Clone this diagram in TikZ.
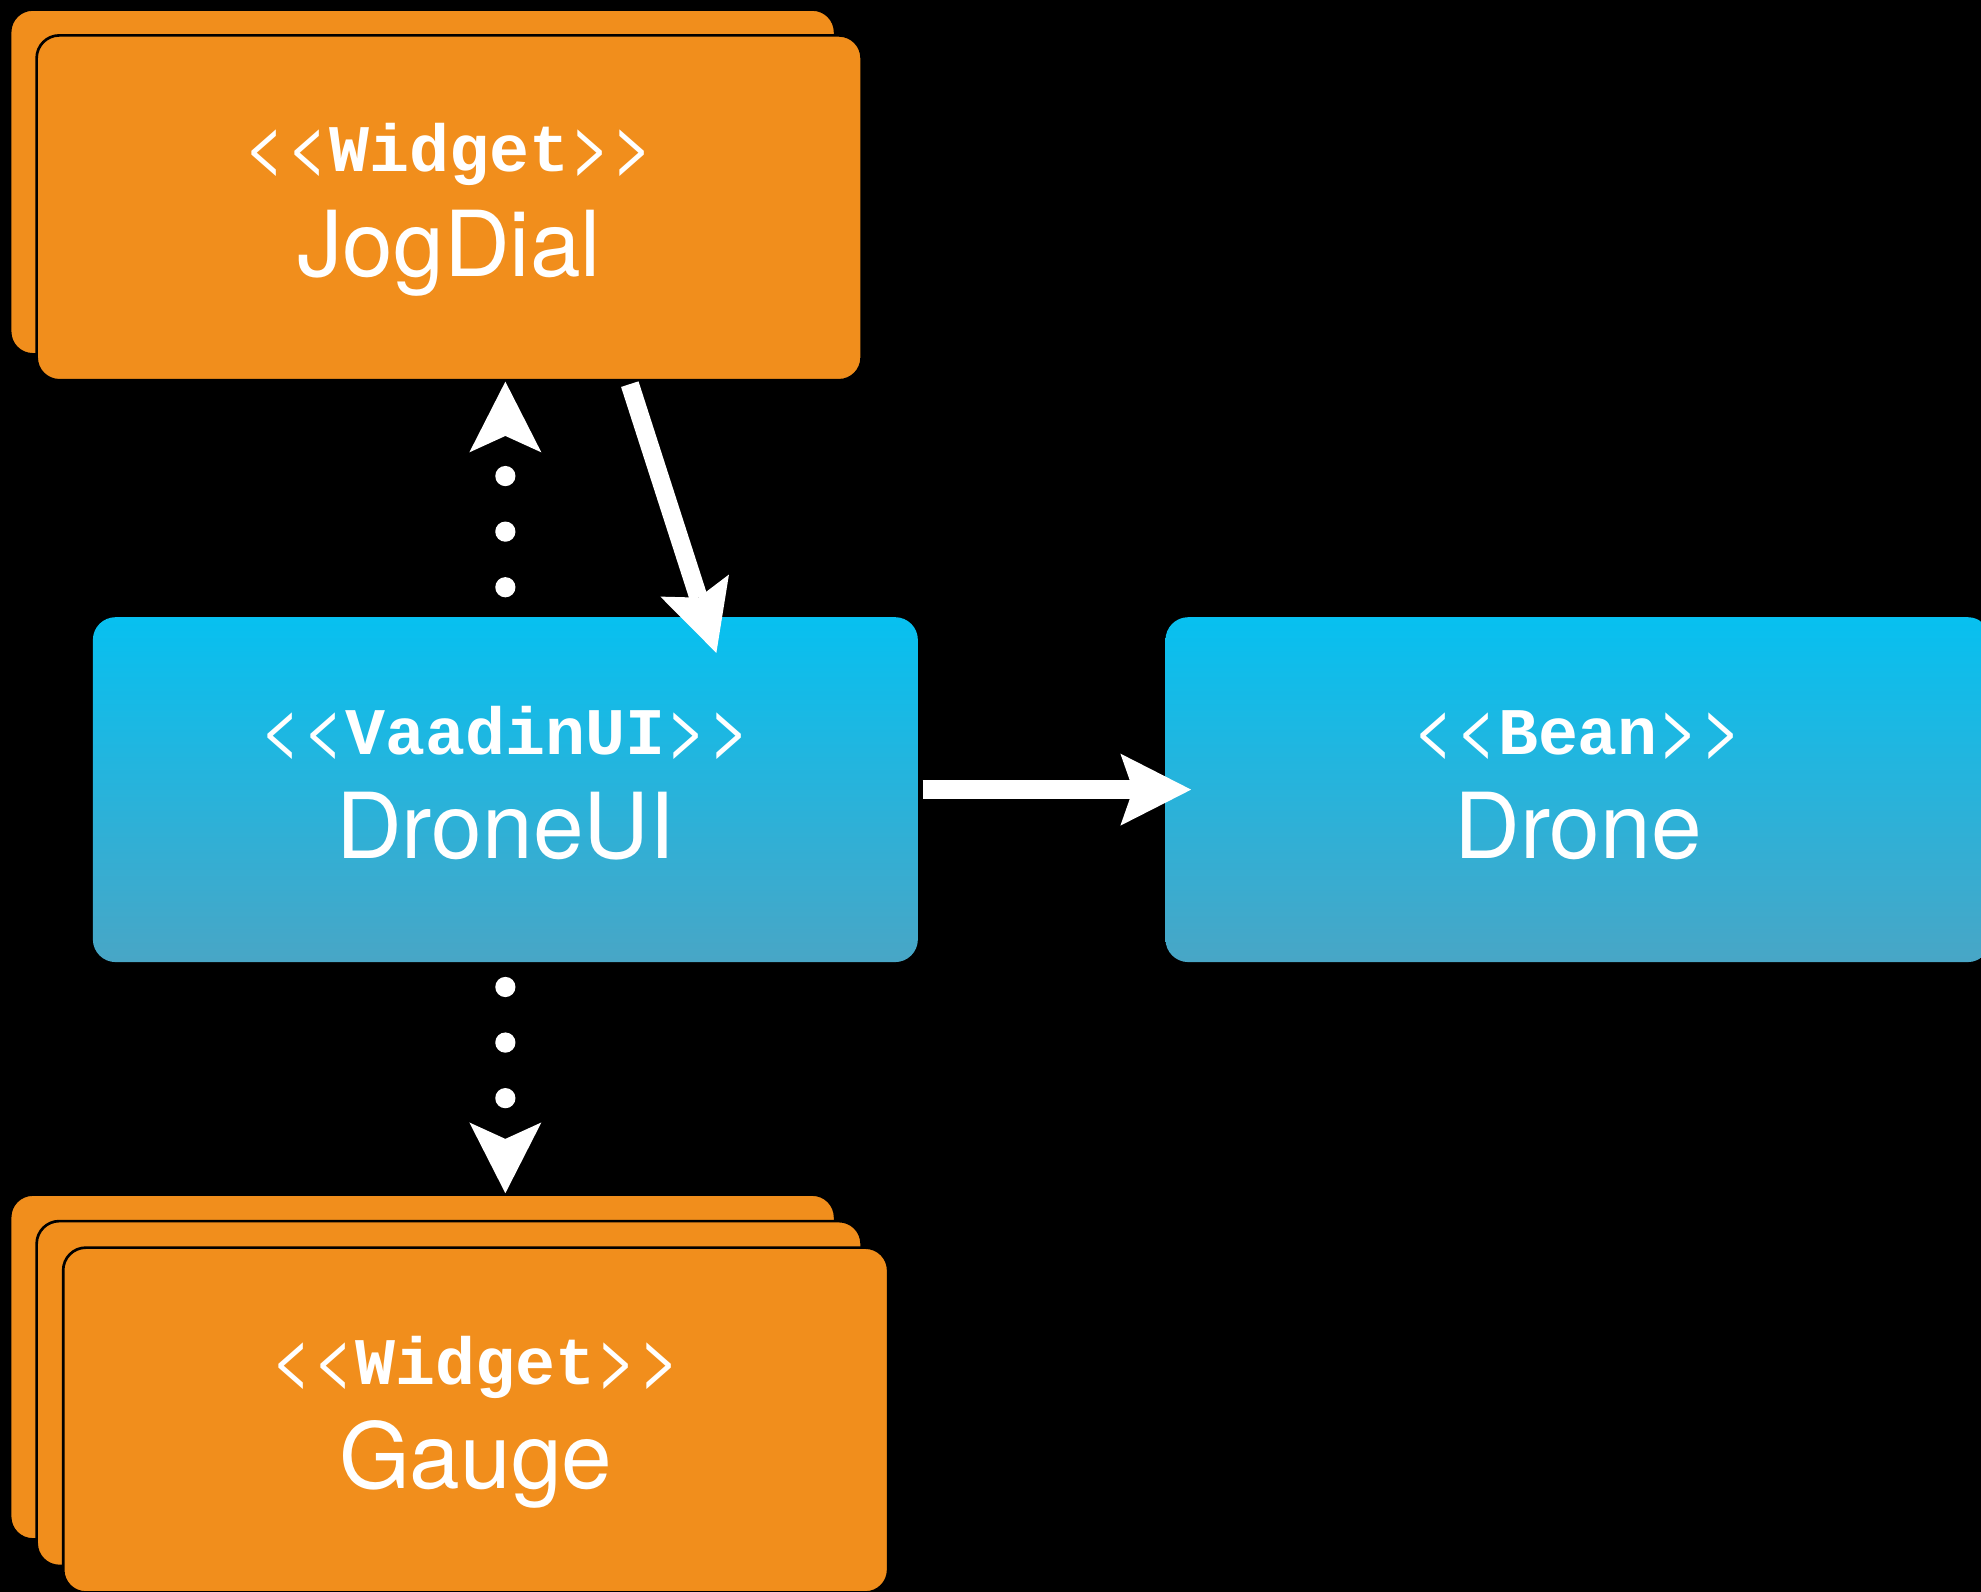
\documentclass[tikz,border=0pt]{standalone}
\usepackage{fontspec}
\setmainfont{TeX Gyre Heros}
\newfontfamily\codefont{Liberation Mono}
\usepackage{xcolor}
\usetikzlibrary{arrows.meta}
\definecolor{widget}{HTML}{F18E1C}
\definecolor{uitop}{HTML}{07C0F0}
\definecolor{uibottom}{HTML}{48A6C6}
\newcommand{\chevrons}[1]{{\fontsize{16.5}{18}\selectfont#1\kern0pt#1}}
\newcommand{\stereotype}[1]{\chevrons{<}{\codefont\bfseries #1}\chevrons{>}}

\begin{document}
\begin{tikzpicture}[
        widget/.style={rectangle, rounded corners=0.18cm, fill=widget, draw=black, line width=0.6pt,
            minimum width=6.53cm, minimum height=2.73cm, inner sep=0pt},
        vaadin/.style={rectangle, rounded corners=0.18cm, top color=uitop, bottom color=uibottom,
            minimum width=6.53cm, minimum height=2.73cm, inner sep=0pt},
        stereo/.style={text=white, font=\fontsize{15}{18}\selectfont, inner sep=0pt, anchor=base},
        classname/.style={text=white, font=\fontsize{20.5}{24}\selectfont, inner sep=0pt, anchor=base},
        link/.style={white, line width=0.145cm,
            -{Stealth[length=0.56cm, width=0.57cm, inset=0.10cm, line width=0pt]}},
        uses/.style={white, line width=0.16cm, line cap=round, dash pattern=on 0pt off 0.44cm,
            -{Stealth[length=0.56cm, width=0.57cm, inset=0.13cm, line width=0pt]}}
    ]
        \fill[black] (0,0) rectangle (15.68,12.60);
        \useasboundingbox (0,0) rectangle (15.68,12.60);

        \node[widget] (jogdialb) at (3.345,11.16) {};
        \node[widget] (jogdial) at (3.555,10.955) {};
        \node[vaadin] (droneui) at (4.00,6.35) {};
        \node[vaadin] (drone) at (12.49,6.35) {};
        \node[widget] (gaugeb) at (3.345,1.78) {};
        \node[widget] (gaugem) at (3.555,1.57) {};
        \node[widget] (gauge) at (3.765,1.36) {};

        \node[stereo] (jogdialst) at ([yshift=-1.09cm]jogdial.north) {\stereotype{Widget}};
        \node[classname] (jogdialnm) at ([yshift=-1.92cm]jogdial.north) {JogDial};
        \node[stereo] (droneuist) at ([yshift=-1.09cm]droneui.north) {\stereotype{VaadinUI}};
        \node[classname] (droneuinm) at ([yshift=-1.92cm]droneui.north) {DroneUI};
        \node[stereo] (dronest) at ([yshift=-1.09cm]drone.north) {\stereotype{Bean}};
        \node[classname] (dronenm) at ([yshift=-1.92cm]drone.north) {Drone};
        \node[stereo] (gaugest) at ([yshift=-1.09cm]gauge.north) {\stereotype{Widget}};
        \node[classname] (gaugenm) at ([yshift=-1.92cm]gauge.north) {Gauge};

        \draw[uses, shorten <=0.23cm] (droneui.north) -- (droneui.north |- jogdial.south);
        \draw[uses, shorten <=0.19cm] (droneui.south) -- (droneui.south |- gaugeb.north);
        \draw[link] ([xshift=1.43cm,yshift=-0.02cm]jogdial.south) -- ([xshift=1.67cm,yshift=-0.29cm]droneui.north);
        \draw[link, shorten <=0.03cm] (droneui.east) -- ([xshift=0.21cm]drone.west);
    \end{tikzpicture}
\end{document}
